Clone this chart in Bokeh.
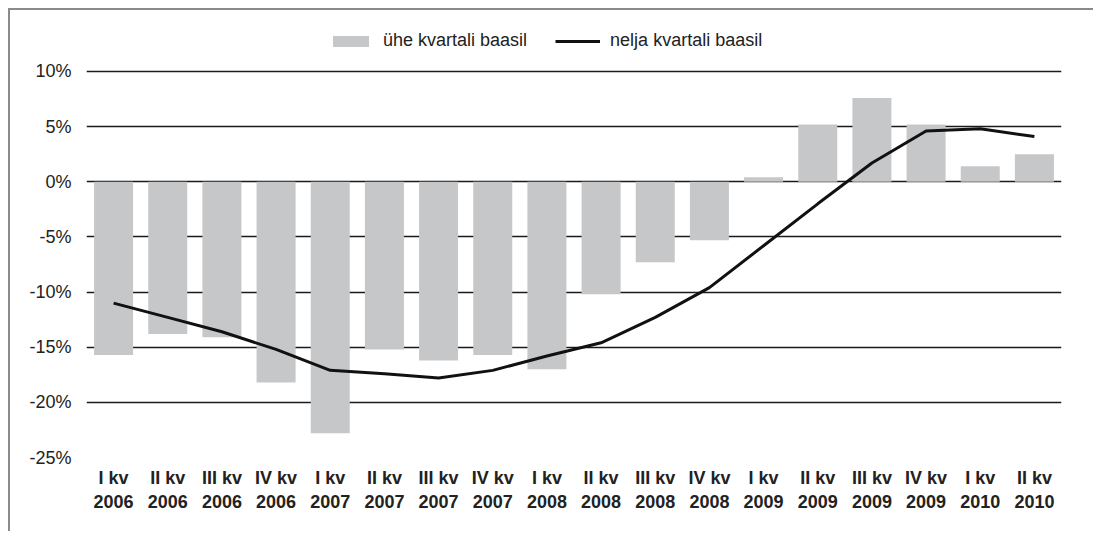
from bokeh.plotting import figure
from bokeh.models import FactorRange, FixedTicker, PrintfTickFormatter, Range1d
from bokeh.embed import file_html
from bokeh.resources import INLINE

quarters = ["I kv", "II kv", "III kv", "IV kv", "I kv", "II kv", "III kv", "IV kv", "I kv",
            "II kv", "III kv", "IV kv", "I kv", "II kv", "III kv", "IV kv", "I kv", "II kv"]
years = ["2006", "2006", "2006", "2006", "2007", "2007", "2007", "2007", "2008",
         "2008", "2008", "2008", "2009", "2009", "2009", "2009", "2010", "2010"]
one_quarter = [-15.7, -13.8, -14.1, -18.2, -22.8, -15.2, -16.2, -15.7, -17.0,
               -10.2, -7.3, -5.3, 0.4, 5.2, 7.6, 5.2, 1.4, 2.5]
four_quarters = [-11.0, -12.3, -13.6, -15.2, -17.1, -17.4, -17.8, -17.1, -15.8,
                 -14.6, -12.3, -9.6, -5.8, -2.0, 1.7, 4.6, 4.8, 4.1]
y_ticks = [-25, -20, -15, -10, -5, 0, 5, 10]
legend_labels = ["ühe kvartali baasil", "nelja kvartali baasil"]

factors = [f"{q}\n{y}" for q, y in zip(quarters, years)]

FONT = "Liberation Sans"

# chart box edge at x=8 / y=8 ; frame: x 86..1061, y 20..457 ; gridlines -25 (457) .. 10 (71)
p = figure(x_range=FactorRange(factors=factors, range_padding=0),
           y_range=Range1d(-25, 14.62),
           width=1085, height=523,
           min_border_left=76, min_border_right=34, min_border_top=10, min_border_bottom=76,
           output_backend="svg", toolbar_location=None,
           styles={"margin-left": "8px", "margin-top": "8px",
                   "border-left": "2px solid #8a8a8a",
                   "border-top": "2px solid #8a8a8a"})

p.outline_line_color = None
p.background_fill_color = "white"
p.border_fill_color = "white"

p.vbar(x=factors, top=one_quarter, bottom=0, width=0.72, fill_color="#c6c7c9",
       line_color=None, legend_label=legend_labels[0])
p.line(x=factors, y=four_quarters, line_color="#111111", line_width=3,
       legend_label=legend_labels[1])

# Y axis
p.yaxis.ticker = FixedTicker(ticks=y_ticks)
p.yaxis.formatter = PrintfTickFormatter(format="%d%%")
p.yaxis.axis_line_color = None
p.yaxis.major_tick_line_color = None
p.yaxis.minor_tick_line_color = None
p.yaxis.major_label_standoff = 9
p.yaxis.major_label_text_font = FONT
p.yaxis.major_label_text_font_size = "18px"
p.yaxis.major_label_text_color = "#222222"

p.ygrid.ticker = FixedTicker(ticks=y_ticks)
p.ygrid.grid_line_color = "#1a1a1a"
p.ygrid.grid_line_width = 1.6
p.xgrid.grid_line_color = None

# X axis (two-line labels)
xa = p.xaxis[0]
xa.axis_line_color = None
xa.major_tick_line_color = None
xa.minor_tick_line_color = None
xa.major_label_text_font = FONT
xa.major_label_text_font_size = "18px"
xa.major_label_text_font_style = "bold"
xa.major_label_text_color = "#222222"
xa.major_label_standoff = 4

# Legend
lg = p.legend[0]
lg.orientation = "horizontal"
lg.location = (242, 406)
lg.border_line_color = None
lg.background_fill_alpha = 0
lg.padding = 0
lg.margin = 0
lg.spacing = 28
lg.glyph_width = 45
lg.glyph_height = 14
lg.label_standoff = 10
lg.label_text_font = FONT
lg.label_text_font_size = "18px"
lg.label_text_color = "#222222"

open("out.html", "w").write(file_html(p, INLINE))
